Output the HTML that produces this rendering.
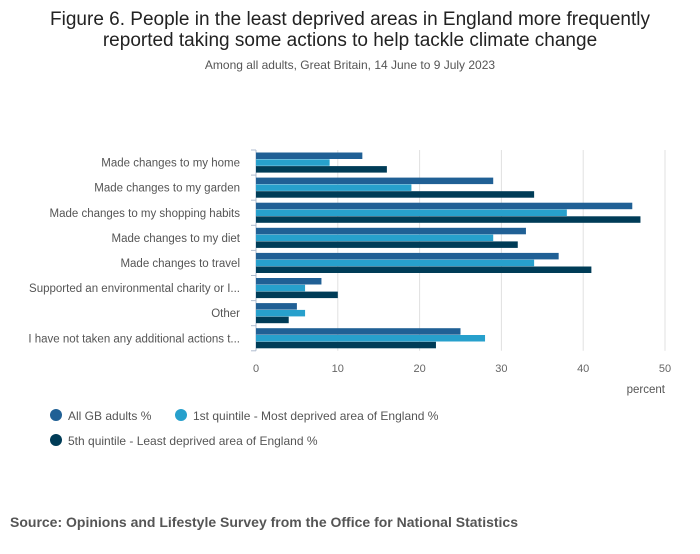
<!DOCTYPE html>
<html><head><meta charset="utf-8"><style>
body{margin:0;background:#fff;font-family:"Liberation Sans",sans-serif;}
</style></head><body>
<svg width="700" height="549" xmlns="http://www.w3.org/2000/svg" id="svg">
<text x="350" y="25" text-anchor="middle" font-size="19" fill="#222">Figure 6. People in the least deprived areas in England more frequently</text>
<text x="350" y="46" text-anchor="middle" font-size="19" fill="#222">reported taking some actions to help tackle climate change</text>
<text x="350" y="69" text-anchor="middle" font-size="12" fill="#555">Among all adults, Great Britain, 14 June to 9 July 2023</text>
<g id="grid"></g><g id="bars"></g><g id="labels"></g>
<text x="665" y="393" text-anchor="end" font-size="11.5" fill="#555">percent</text>
<g>
<circle cx="56" cy="415" r="6" fill="#206095"/>
<text x="68" y="420" font-size="12" fill="#555">All GB adults %</text>
<circle cx="181" cy="415" r="6" fill="#27a0cc"/>
<text x="193" y="420" font-size="12" fill="#555">1st quintile - Most deprived area of England %</text>
<circle cx="56" cy="440" r="6" fill="#003c57"/>
<text x="68" y="445" font-size="12" fill="#555">5th quintile - Least deprived area of England %</text>
</g>
<text x="10" y="527" font-size="14" font-weight="bold" fill="#555">Source: Opinions and Lifestyle Survey from the Office for National Statistics</text>
</svg>
<script>
const categories=["Made changes to my home","Made changes to my garden","Made changes to my shopping habits","Made changes to my diet","Made changes to travel","Supported an environmental charity or I...","Other","I have not taken any additional actions t..."];
const allAdults=[13,29,46,33,37,8,5,25];
const quintile1=[9,19,38,29,34,6,6,28];
const quintile5=[16,34,47,32,41,10,4,22];
const xTicks=[0,10,20,30,40,50];
const NS="http://www.w3.org/2000/svg";
const x0=256,x1=665,yTop=150,band=25.1;
const xs=v=>x0+(v/50)*(x1-x0);
function mk(t,a,p){const e=document.createElementNS(NS,t);for(const k in a)e.setAttribute(k,a[k]);p.appendChild(e);return e;}
const grid=document.getElementById('grid'),bars=document.getElementById('bars'),labels=document.getElementById('labels');
xTicks.forEach(t=>{
 if(t>0){const l=mk('line',{x1:xs(t),x2:xs(t),y1:yTop,y2:yTop+band*8,stroke:'#e0e0e0'},grid);
 
 }
 const tx=mk('text',{x:xs(t),y:372,'text-anchor':'middle','font-size':11,fill:'#666'},labels);tx.textContent=t;
 
 
});
const ax=mk('line',{x1:x0,x2:x0,y1:yTop,y2:yTop+band*8,stroke:'#b0bdd0'},grid);


for(let i=0;i<=8;i++){const tk=mk('line',{x1:x0-5,x2:x0,y1:yTop+band*i,y2:yTop+band*i,stroke:'#b0bdd0'},grid);
 
 }
const series=[[allAdults,'#206095','all'],[quintile1,'#27a0cc','q1'],[quintile5,'#003c57','q5']];
const bh=6.8,pad=2.5;
categories.forEach((c,i)=>{
 const y=yTop+band*i;
 const t=mk('text',{x:240,y:y+band/2+4,'text-anchor':'end','font-size':11.5,fill:'#555'},labels);t.textContent=c;
 
 
 series.forEach((s,j)=>{
  const r=mk('rect',{x:x0,y:y+pad+j*bh,width:xs(s[0][i])-x0,height:bh-0.3,fill:s[1]},bars);
  
  
 });
});
</script>
</body></html>
